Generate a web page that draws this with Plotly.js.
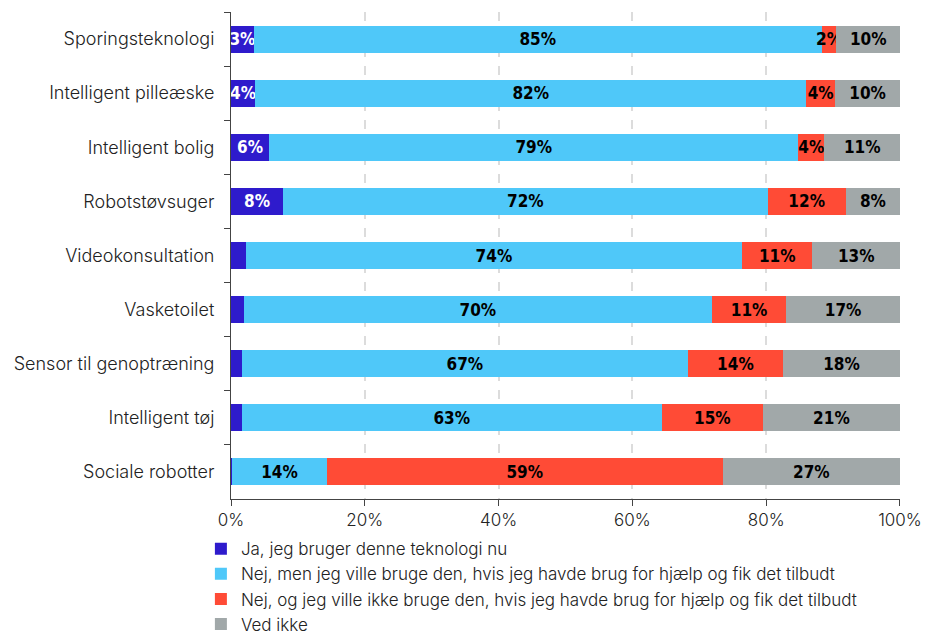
<!DOCTYPE html>
<html>
<head>
<meta charset="utf-8">
<script src="https://cdn.plot.ly/plotly-3.0.1.min.js"></script>
<style>html,body{margin:0;padding:0;background:#fff;overflow:hidden;}#chart{width:926px;height:637px;}</style>
</head>
<body>
<div id="chart"></div>
<script>
const categories = ["Sporingsteknologi","Intelligent pilleæske","Intelligent bolig","Robotstøvsuger","Videokonsultation","Vasketoilet","Sensor til genoptræning","Intelligent tøj","Sociale robotter"];
const seriesNames = ["Ja, jeg bruger denne teknologi nu","Nej, men jeg ville bruge den, hvis jeg havde brug for hjælp og fik det tilbudt","Nej, og jeg ville ikke bruge den, hvis jeg havde brug for hjælp og fik det tilbudt","Ved ikke"];
const jaNu = [3.4, 3.6, 5.7, 7.8, 2.2, 1.9, 1.6, 1.6, 0.2];
const villeBruge = [84.9, 82.4, 79.1, 72.4, 74.2, 70.0, 66.7, 62.8, 14.1];
const villeIkke = [2.2, 4.3, 3.9, 11.7, 10.5, 11.1, 14.2, 15.1, 59.2];
const vedIkke = [9.5, 9.7, 11.3, 8.1, 13.1, 17.0, 17.5, 20.5, 26.5];
const colors = ["#2E1BCC","#4FC8F9","#FF4B36","#A1A8A9"];
const textColors = ["#ffffff","#000000","#000000","#000000"];
const minLabel = [3, 1.5, 1.5, 1.5];

const seriesValues = [jaNu, villeBruge, villeIkke, vedIkke];
const traces = seriesValues.map((vals, i) => ({
  type: "bar",
  orientation: "h",
  name: seriesNames[i],
  y: categories,
  x: vals,
  marker: {color: colors[i], line: {width: 0}},
  text: vals.map(v => v >= minLabel[i] ? Math.round(v) + "%" : ""),
  textposition: "inside",
  insidetextanchor: "middle",
  constraintext: "none",
  textangle: 0,
  insidetextfont: {family: "DejaVu Sans Condensed, Liberation Sans Narrow, Liberation Sans, sans-serif", size: 17, color: textColors[i], weight: 700},
  hoverinfo: "none",
  cliponaxis: false
}));

const layout = {
  width: 926, height: 637,
  margin: {l: 231, r: 26, t: 12, b: 138, autoexpand: false},
  barmode: "stack",
  bargap: 0.5,
  paper_bgcolor: "#fff",
  plot_bgcolor: "#fff",
  font: {family: "Inter, Lato, sans-serif", color: "#222"},
  xaxis: {
    range: [0, 100.001], tickvals: [0, 20, 40, 60, 80, 100], ticktext: ["0%","20%","40%","60%","80%","100%"],
    showgrid: true, gridcolor: "#dcdcdc", gridwidth: 2, griddash: "dash",
    zeroline: false, showline: true, linecolor: "#444", linewidth: 1,
    ticks: "outside", ticklen: 6, tickcolor: "#444",
    tickfont: {family: "Inter, Lato, sans-serif", size: 17, color: "#222", weight: 300},
    fixedrange: true
  },
  yaxis: {
    type: "category", autorange: "reversed",
    showline: true, linecolor: "#444", linewidth: 1,
    ticks: "outside", ticklen: 6, tickcolor: "#444", tickson: "boundaries",
    showgrid: false, zeroline: false,
    tickfont: {family: "Inter, Lato, sans-serif", size: 18, color: "#222", weight: 300},
    ticklabelstandoff: 12,
    fixedrange: true
  },
  legend: {
    orientation: "v", x: -0.045, xanchor: "left", y: -0.066, yanchor: "top",
    font: {family: "Inter, Lato, sans-serif", size: 17, color: "#222", weight: 300},
    traceorder: "normal", itemwidth: 30, tracegroupgap: 0,
    bgcolor: "rgba(0,0,0,0)"
  },
  showlegend: true
};

Plotly.newPlot("chart", traces, layout, {displayModeBar: false, staticPlot: true});
</script>
</body>
</html>
